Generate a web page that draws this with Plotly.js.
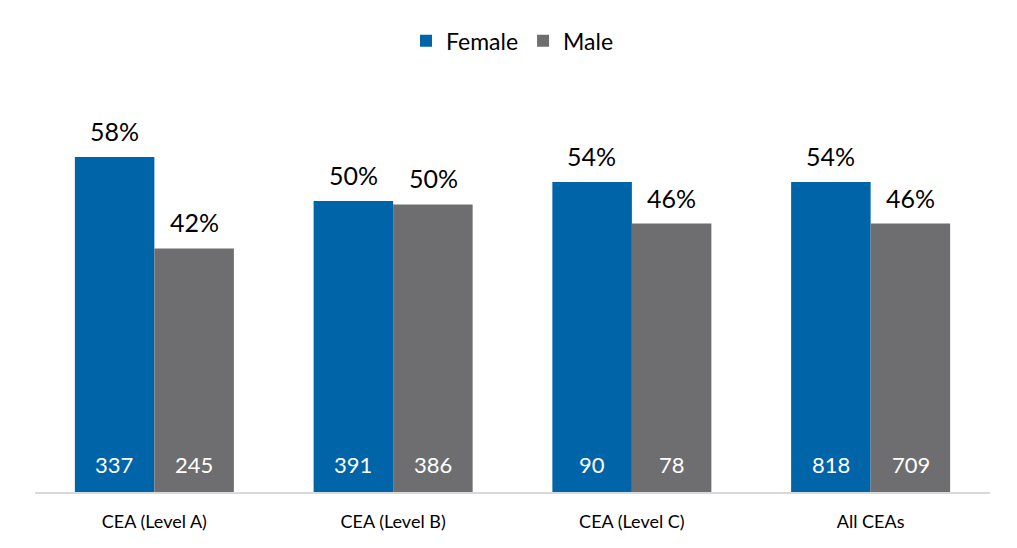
<!DOCTYPE html>
<html>
<head>
<meta charset="utf-8">
<script src="https://cdn.plot.ly/plotly-3.0.1.min.js"></script>
<style>html,body{margin:0;padding:0;background:#fff;}#chart{width:1017px;height:548px;}</style>
</head>
<body>
<div id="chart"></div>
<script>
const categories = ["CEA (Level A)", "CEA (Level B)", "CEA (Level C)", "All CEAs"];
const femaleCounts = [337, 391, 90, 818];
const maleCounts = [245, 386, 78, 709];
const femalePct = [0.579, 0.503, 0.536, 0.536];
const malePct = [0.421, 0.497, 0.464, 0.464];

const FEMALE_COLOR = "#0064A9";
const MALE_COLOR = "#6E6E70";
const FONT = "Lato, 'Liberation Sans', sans-serif";

const traces = [
  {type: "bar", name: "Female", x: categories, y: femalePct, marker: {color: FEMALE_COLOR}, hoverinfo: "none"},
  {type: "bar", name: "Male", x: categories, y: malePct, marker: {color: MALE_COLOR}, hoverinfo: "none"}
];

const annotations = [];
const series = [
  {pct: femalePct, counts: femaleCounts, shift: -40},
  {pct: malePct, counts: maleCounts, shift: 40}
];
series.forEach(s => {
  categories.forEach((c, i) => {
    annotations.push({x: c, y: s.pct[i], xref: "x", yref: "y", xshift: s.shift, yshift: 9,
      yanchor: "bottom", showarrow: false, text: Math.round(s.pct[i] * 100) + "%",
      font: {family: FONT, size: 25, color: "#000"}});
    annotations.push({x: c, y: 0, xref: "x", yref: "y", xshift: s.shift, yshift: 12,
      yanchor: "bottom", showarrow: false, text: String(s.counts[i]),
      font: {family: FONT, size: 22, color: "#fff"}});
  });
});

const layout = {
  width: 1017, height: 548,
  margin: {l: 35, r: 27, t: 87, b: 56},
  paper_bgcolor: "#fff", plot_bgcolor: "#fff",
  barmode: "group", bargap: 0.334, bargroupgap: 0,
  font: {family: FONT, color: "#000"},
  showlegend: true,
  legend: {orientation: "h", x: 0.5, xanchor: "center", y: 1.114, yanchor: "middle",
    font: {family: FONT, size: 23, color: "#000"}, itemwidth: 30, traceorder: "normal"},
  xaxis: {type: "category", showline: true, linecolor: "#D9D9D9", linewidth: 2,
    ticks: "", ticklabelstandoff: 12, tickfont: {family: FONT, size: 18, color: "#000"},
    showgrid: false, fixedrange: true},
  yaxis: {range: [0, 0.7], visible: false, showgrid: false, zeroline: false, fixedrange: true},
  annotations: annotations
};

Plotly.newPlot("chart", traces, layout, {displayModeBar: false, staticPlot: true});
</script>
</body>
</html>
